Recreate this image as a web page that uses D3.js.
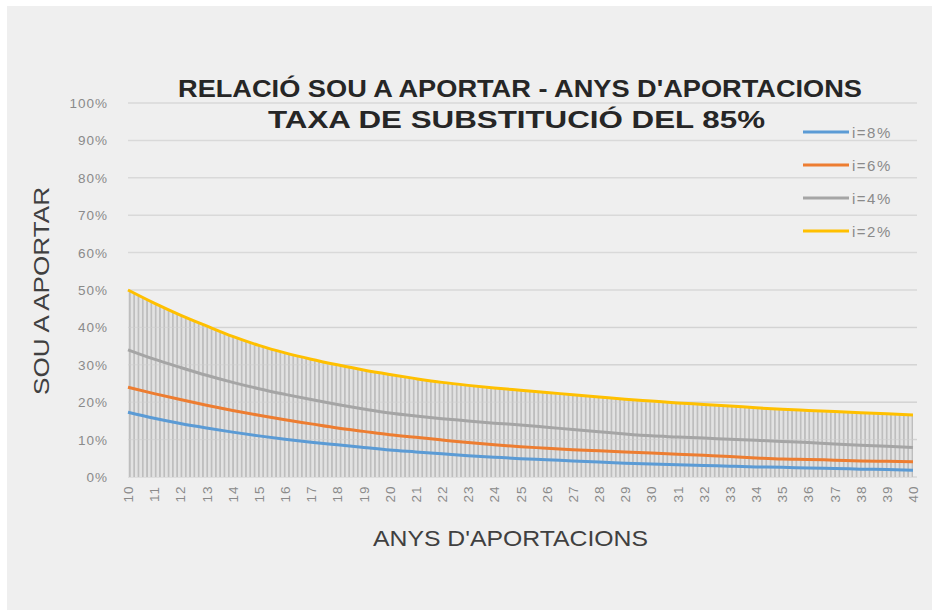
<!DOCTYPE html>
<html><head><meta charset="utf-8">
<script src="https://cdn.jsdelivr.net/npm/d3@7"></script>
<style>body{margin:0;background:#fff}svg{display:block}text{font-family:"Liberation Sans",Arial,sans-serif}</style>
</head><body>
<svg id="c" width="932" height="610"></svg>
<script>
const years = d3.range(10, 41);
const yTicks = [0,10,20,30,40,50,60,70,80,90,100];
const seriesNames = ["i=8%","i=6%","i=4%","i=2%"];
const colors = ["#5b9bd5","#ed7d31","#a5a5a5","#ffc000"];
const i8 = [17.3,15.7,14.3,13.1,12.0,11.0,10.1,9.3,8.6,7.9,7.2,6.7,6.2,5.7,5.3,4.9,4.6,4.3,4.0,3.7,3.5,3.3,3.1,2.9,2.7,2.6,2.4,2.3,2.1,2.0,1.8];
const i6 = [24.0,22.3,20.7,19.2,17.8,16.5,15.3,14.2,13.1,12.2,11.3,10.6,9.9,9.2,8.6,8.1,7.7,7.3,7.0,6.7,6.4,6.1,5.8,5.5,5.1,4.8,4.7,4.5,4.3,4.2,4.1];
const i4 = [34.0,31.5,29.3,27.2,25.3,23.6,22.1,20.7,19.4,18.2,17.1,16.3,15.6,15.0,14.4,13.9,13.3,12.7,12.1,11.5,11.0,10.7,10.4,10.1,9.8,9.5,9.2,8.8,8.5,8.2,7.9];
const i2 = [50.0,46.5,43.3,40.4,37.6,35.2,33.2,31.5,30.0,28.6,27.4,26.3,25.3,24.5,23.8,23.2,22.6,22.0,21.4,20.8,20.3,19.8,19.4,19.0,18.5,18.1,17.8,17.5,17.2,16.9,16.6];
const seriesVals = [i8,i6,i4,i2];

const svg = d3.select("#c");
svg.append("rect").attr("x",7).attr("y",6).attr("width",925).attr("height",604).attr("fill","#efefef");

const x = d3.scaleLinear().domain([10,40]).range([128,913]);
const y = d3.scaleLinear().domain([0,100]).range([477,103]);

// hatch pattern
const defs = svg.append("defs");
const pat = defs.append("pattern").attr("id","hatch").attr("patternUnits","userSpaceOnUse")
  .attr("width",4.3).attr("height",10);
pat.append("rect").attr("width",4.3).attr("height",10).attr("fill","#e2e2e2");
pat.append("rect").attr("x",0).attr("width",1.7).attr("height",10).attr("fill","#bebebe");

// gridlines
svg.append("g").selectAll("line").data(yTicks).join("line")
  .attr("x1",128).attr("x2",917).attr("y1",d=>y(d)).attr("y2",d=>y(d))
  .attr("stroke","#d9d9d9").attr("stroke-width",1.5);

// hatched area under top series
const area = d3.area().x((d,k)=>x(years[k])).y0(y(0)).y1(d=>y(d)).curve(d3.curveMonotoneX);
svg.append("path").datum(i2).attr("d",area).attr("fill","url(#hatch)");

svg.append("g").selectAll("line").data(yTicks.filter(d=>d>0&&d<50)).join("line")
  .attr("x1",128).attr("x2",917).attr("y1",d=>y(d)).attr("y2",d=>y(d))
  .attr("stroke","#cfcfcf").attr("stroke-width",1).attr("opacity",0.6);

// lines
const line = d3.line().x((d,k)=>x(years[k])).y(d=>y(d)).curve(d3.curveMonotoneX);
svg.append("g").selectAll("path").data(seriesVals).join("path")
  .attr("d",line).attr("fill","none").attr("stroke",(d,k)=>colors[k]).attr("stroke-width",3);

// y axis labels
svg.append("g").selectAll("text").data(yTicks).join("text")
  .attr("x",108).attr("y",d=>y(d)+5).attr("text-anchor","end")
  .attr("font-size",13.5).attr("letter-spacing",1).attr("fill","#8a8a8a").text(d=>d+"%");

// x axis labels rotated
svg.append("g").selectAll("text").data(years).join("text")
  .attr("transform",d=>`translate(${x(d)+5},${494}) rotate(-90)`)
  .attr("text-anchor","middle").attr("font-size",13.5).attr("letter-spacing",1).attr("fill","#8a8a8a").text(d=>d);

// axis titles
svg.append("text").attr("x",373).attr("y",546)
  .attr("font-size",22).attr("textLength",275).attr("lengthAdjust","spacingAndGlyphs")
  .attr("fill","#404040").text("ANYS D'APORTACIONS");
svg.append("text").attr("transform","translate(49,395) rotate(-90)")
  .attr("font-size",22).attr("textLength",208).attr("lengthAdjust","spacingAndGlyphs")
  .attr("fill","#404040").text("SOU A APORTAR");

// title
svg.append("text").attr("x",178).attr("y",97)
  .attr("font-size",23).attr("font-weight","bold").attr("fill","#262626")
  .attr("textLength",684).attr("lengthAdjust","spacingAndGlyphs")
  .text("RELACIÓ  SOU A APORTAR - ANYS D'APORTACIONS");
svg.append("text").attr("x",268).attr("y",128)
  .attr("font-size",23).attr("font-weight","bold").attr("fill","#262626")
  .attr("textLength",497).attr("lengthAdjust","spacingAndGlyphs")
  .text("TAXA DE SUBSTITUCIÓ DEL 85%");

// legend
const lg = svg.append("g").selectAll("g").data(seriesNames).join("g")
  .attr("transform",(d,k)=>`translate(803,${132+k*33})`);
lg.append("line").attr("x1",0).attr("x2",46).attr("stroke",(d,k)=>colors[k]).attr("stroke-width",3);
lg.append("text").attr("x",49).attr("y",6).attr("font-size",15).attr("letter-spacing",1.5).attr("fill","#8a8a8a").text(d=>d);
</script>
</body></html>
